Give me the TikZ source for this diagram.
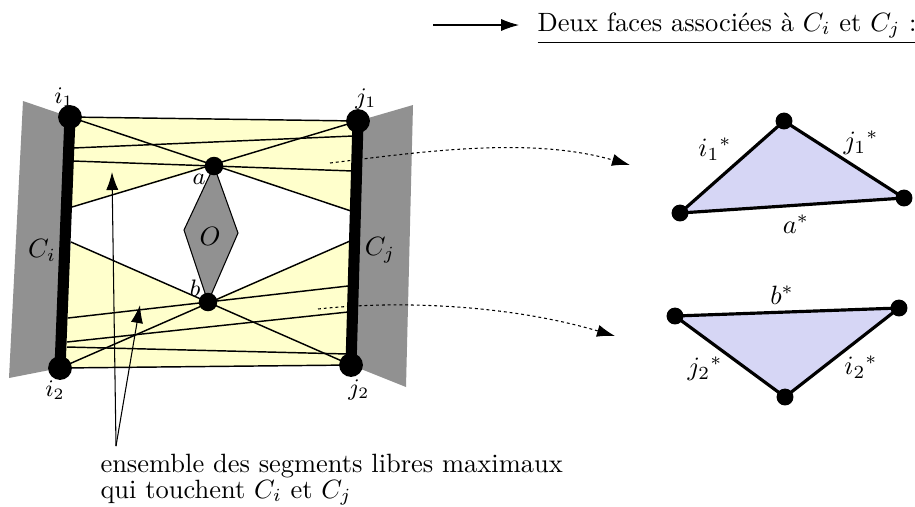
\documentclass[tikz,border=0pt]{standalone}
\usepackage{amsmath,amssymb}
\usepackage{xcolor}
\usetikzlibrary{arrows.meta}
\definecolor{paleyellow}{RGB}{255,255,204}
\definecolor{palegrey}{RGB}{145,145,145}
\definecolor{paleblue}{RGB}{214,214,245}
\tikzset{
  segment/.style={line width=0.55pt},
  wall/.style={line width=4.2pt},
  bigdot/.style={circle,fill=black,inner sep=0pt,minimum size=9pt},
  middot/.style={circle,fill=black,inner sep=0pt,minimum size=7pt},
  facedot/.style={circle,fill=black,inner sep=0pt,minimum size=6.4pt},
  edge/.style={line width=1.2pt},
  pointer/.style={line width=0.4pt,-{Latex[length=6.8pt,width=4.6pt]}},
  flow/.style={line width=0.4pt,dash pattern=on 1.1pt off 1.1pt,-{Latex[length=6.8pt,width=4.6pt]}},
}

\begin{document}
\begin{tikzpicture}[x=0.378pt,y=-0.378pt]
  \useasboundingbox (0,0) rectangle (915,506);
  \coordinate (i1) at (70,117);
  \coordinate (j1) at (358,121);
  \coordinate (i2) at (60,368);
  \coordinate (j2) at (351,365);
  \coordinate (a) at (214,166);
  \coordinate (b) at (208,302);
  % grey walls
  \fill[palegrey] (23,101) -- (i1) -- (i2) -- (9,378) -- cycle;
  \fill[palegrey] (413,105) -- (j1) -- (j2) -- (406,387) -- cycle;
  % free segments
  \coordinate (u1) at (351,211);
  \coordinate (u2) at (72,207);
  \coordinate (u3) at (73,148);
  \coordinate (u4) at (353,136);
  \coordinate (u5) at (73,161);
  \coordinate (u6) at (353,171);
  \coordinate (v1) at (350,241);
  \coordinate (v2) at (71,242);
  \coordinate (v3) at (68,318);
  \coordinate (v4) at (348,286);
  \coordinate (v5) at (67,342);
  \coordinate (v6) at (348,312);
  \coordinate (v7) at (67,347);
  \coordinate (v8) at (348,354);
  \fill[paleyellow] (i1) -- (j1) -- (u1) -- (a) -- (u2) -- cycle;
  \fill[paleyellow] (v2) -- (b) -- (v1) -- (j2) -- (i2) -- cycle;
  \draw[segment] (i1) -- (j1);
  \draw[segment] (i1) -- (u1);
  \draw[segment] (j1) -- (u2);
  \draw[segment] (u3) -- (u4);
  \draw[segment] (u5) -- (a) -- (u6);
  \draw[segment] (i2) -- (j2);
  \draw[segment] (i2) -- (v1);
  \draw[segment] (v2) -- (j2);
  \draw[segment] (v3) -- (b) -- (v4);
  \draw[segment] (v5) -- (v6);
  \draw[segment] (v7) -- (v8);
  % obstacle
  \draw[fill=palegrey,line width=0.4pt] (a) -- (238,233) -- (b) -- (184,230) -- cycle;
  \node (O) at (210,236) {$O$};
  \draw[wall] (i1) -- (i2);
  \draw[wall] (j1) -- (j2);
  \node[bigdot] (di1) at (i1) {};
  \node[bigdot] (dj1) at (j1) {};
  \node[bigdot] (di2) at (i2) {};
  \node[bigdot] (dj2) at (j2) {};
  \node[middot] (da) at (a) {};
  \node[middot] (db) at (b) {};
  \node (li1) at (64,97) {\small $i_1$};
  \node (lj1) at (366,99) {\small $j_1$};
  \node (li2) at (55,390) {\small $i_2$};
  \node (lj2) at (359,390) {\small $j_2$};
  \node (la) at (199,179) {\small $a$};
  \node (lb) at (195,288) {\small $b$};
  \node (Ci) at (42,250) {$C_i$};
  \node (Cj) at (380,250) {$C_j$};
  % faces
  \coordinate (f1) at (680,213);
  \coordinate (f2) at (784,121);
  \coordinate (f3) at (904,198);
  \coordinate (g1) at (675,316);
  \coordinate (g2) at (899,308);
  \coordinate (g3) at (785,397);
  \draw[edge,fill=paleblue] (f1) -- (f2) -- (f3) -- cycle;
  \draw[edge,fill=paleblue] (g1) -- (g2) -- (g3) -- cycle;
  \node[facedot] (df1) at (f1) {};
  \node[facedot] (df2) at (f2) {};
  \node[facedot] (df3) at (f3) {};
  \node[facedot] (dg1) at (g1) {};
  \node[facedot] (dg2) at (g2) {};
  \node[facedot] (dg3) at (g3) {};
  \node (si1) at (715,149) {$i_1{}^*$};
  \node (sj1) at (861,143) {$j_1{}^*$};
  \node (sa) at (796,224) {$a^*$};
  \node (sb) at (782,295) {$b^*$};
  \node (sj2) at (705,369) {$j_2{}^*$};
  \node (si2) at (861,367) {$i_2{}^*$};
  % pointers
  \coordinate (p0) at (116,446);
  \coordinate (p1) at (112,172);
  \coordinate (p2) at (140,305);
  \draw[pointer] (p0) -- (p1);
  \draw[pointer] (p0) -- (p2);
  \coordinate (q1) at (330,163);
  \coordinate (q2) at (630,165);
  \coordinate (q3) at (318,309);
  \coordinate (q4) at (615,336);
  \draw[flow] (q1) .. controls (420,152) and (530,136) .. (q2);
  \draw[flow] (q3) .. controls (400,300) and (510,305) .. (q4);
  \coordinate (t1) at (433,25);
  \coordinate (t2) at (519,25);
  \draw[pointer] (t1) -- (t2);
  \node[anchor=base west,inner sep=0pt] (title) at (537,31) {\underline{Deux faces associées à $C_i$ et $C_j$ :}};
  \node[anchor=base west,inner sep=0pt] (caption1) at (100,472) {ensemble des segments libres maximaux};
  \node[anchor=base west,inner sep=0pt] (caption2) at (100,498) {qui touchent $C_i$ et $C_j$};
\end{tikzpicture}
\end{document}
